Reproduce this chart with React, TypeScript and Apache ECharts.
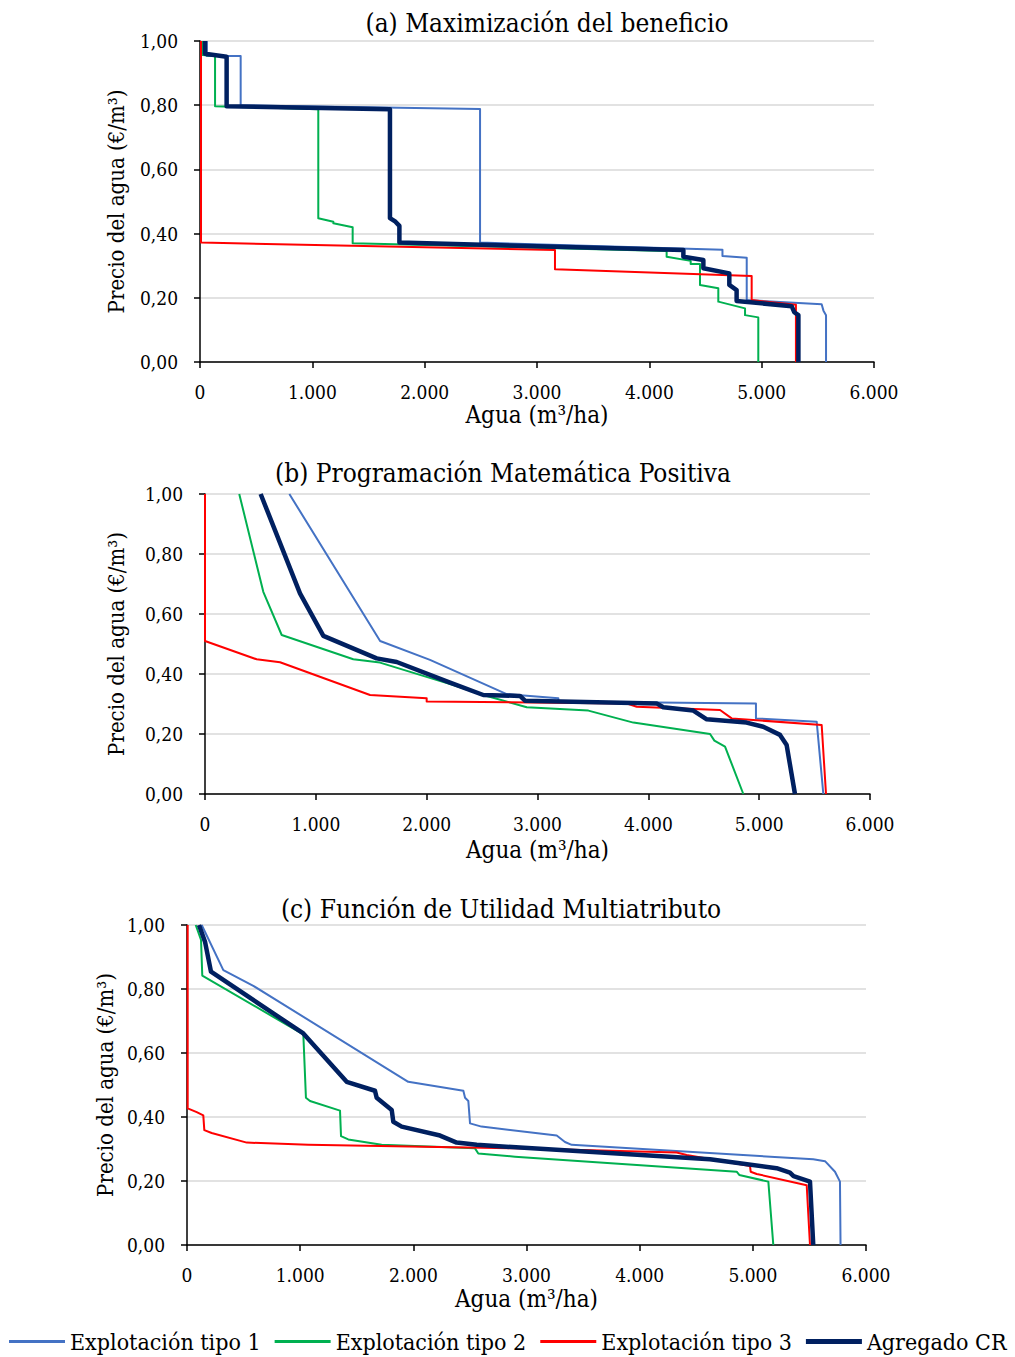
import React, { useEffect, useRef } from "react";
import * as echarts from "echarts";

const seriesNames = ["Explotación tipo 1", "Explotación tipo 2", "Explotación tipo 3", "Agregado CR"];
const seriesColors = ["#4472C4", "#00B050", "#FF0000", "#002060"];
const seriesWidths = [2, 2, 2, 4.5];

const panelTitles = [
  "(a) Maximización del beneficio",
  "(b) Programación Matemática Positiva",
  "(c) Función de Utilidad Multiatributo",
];
const xAxisName = "Agua (m³/ha)";
const yAxisName = "Precio del agua (€/m³)";

// (a) Maximización del beneficio  [agua m3/ha, precio €/m3]
const aTipo1 = [[60, 1.0], [60, 0.953], [362, 0.953], [362, 0.8], [2493, 0.788], [2493, 0.372], [4651, 0.35], [4651, 0.33], [4867, 0.325], [4867, 0.193], [5534, 0.18], [5550, 0.16], [5573, 0.146], [5573, 0]];
const aTipo2 = [[24, 1.0], [24, 0.956], [134, 0.953], [134, 0.797], [1053, 0.787], [1053, 0.448], [1187, 0.437], [1187, 0.432], [1359, 0.42], [1359, 0.37], [4154, 0.346], [4154, 0.328], [4368, 0.315], [4368, 0.305], [4451, 0.305], [4451, 0.24], [4614, 0.23], [4614, 0.188], [4852, 0.167], [4852, 0.146], [4970, 0.139], [4970, 0]];
const aTipo3 = [[9, 1.0], [9, 0.372], [3160, 0.349], [3160, 0.289], [4911, 0.268], [4911, 0.193], [5305, 0.178], [5305, 0]];
const aAgregado = [[45, 1.0], [45, 0.96], [237, 0.951], [237, 0.797], [1691, 0.787], [1691, 0.448], [1740, 0.437], [1775, 0.424], [1775, 0.372], [4303, 0.349], [4303, 0.328], [4481, 0.318], [4481, 0.292], [4712, 0.276], [4712, 0.24], [4777, 0.224], [4777, 0.19], [5267, 0.174], [5290, 0.155], [5327, 0.146], [5327, 0]];

// (b) Programación Matemática Positiva
const bTipo1 = [[761, 1.0], [1580, 0.51], [2030, 0.447], [2722, 0.333], [3188, 0.319], [3188, 0.308], [4971, 0.302], [4971, 0.252], [5519, 0.241], [5579, 0]];
const bTipo2 = [[309, 1.0], [526, 0.674], [692, 0.53], [1338, 0.449], [1579, 0.438], [2241, 0.363], [2511, 0.33], [2903, 0.289], [3459, 0.278], [3865, 0.238], [4557, 0.2], [4596, 0.178], [4692, 0.158], [4857, 0]];
const bTipo3 = [[0, 1.0], [0, 0.51], [466, 0.449], [677, 0.439], [1489, 0.33], [2000, 0.319], [2000, 0.308], [3800, 0.302], [3895, 0.291], [4647, 0.28], [4752, 0.252], [5564, 0.23], [5603, 0]];
const bAgregado = [[502, 1.0], [857, 0.669], [1068, 0.527], [1549, 0.452], [1730, 0.44], [2211, 0.371], [2511, 0.33], [2842, 0.327], [2887, 0.311], [4075, 0.302], [4135, 0.289], [4406, 0.278], [4527, 0.249], [4886, 0.238], [5037, 0.224], [5188, 0.197], [5248, 0.163], [5323, 0]];

// (c) Función de Utilidad Multiatributo
const cTipo1 = [[130, 1.0], [321, 0.859], [586, 0.81], [1955, 0.51], [2442, 0.482], [2457, 0.46], [2486, 0.45], [2501, 0.38], [2602, 0.37], [3267, 0.342], [3340, 0.322], [3399, 0.313], [5534, 0.268], [5638, 0.262], [5726, 0.229], [5770, 0.198], [5775, 0]];
const cTipo2 = [[77, 1.0], [124, 0.953], [135, 0.842], [1028, 0.658], [1051, 0.46], [1087, 0.45], [1352, 0.42], [1361, 0.34], [1425, 0.33], [1720, 0.313], [2545, 0.302], [2574, 0.286], [2898, 0.276], [4857, 0.229], [4880, 0.219], [5137, 0.198], [5181, 0]];
const cTipo3 = [[6, 1.0], [6, 0.427], [86, 0.415], [144, 0.405], [153, 0.359], [218, 0.35], [528, 0.32], [1072, 0.313], [2898, 0.302], [4327, 0.289], [4415, 0.281], [4975, 0.247], [4981, 0.229], [5034, 0.222], [5476, 0.187], [5505, 0]];
const cAgregado = [[106, 1.0], [159, 0.948], [212, 0.854], [1028, 0.661], [1411, 0.51], [1661, 0.482], [1676, 0.46], [1809, 0.422], [1823, 0.385], [1897, 0.37], [2236, 0.342], [2383, 0.32], [2560, 0.313], [4621, 0.268], [5210, 0.24], [5328, 0.226], [5360, 0.215], [5505, 0.198], [5534, 0]];

const panelData = [
  [aTipo1, aTipo2, aTipo3, aAgregado],
  [bTipo1, bTipo2, bTipo3, bAgregado],
  [cTipo1, cTipo2, cTipo3, cAgregado],
];

const FONT = "'DejaVu Serif Condensed', 'Liberation Serif', serif";

const grids = [
  { left: 200, width: 674, top: 41, height: 321 },
  { left: 205, width: 665, top: 494, height: 300 },
  { left: 187, width: 679, top: 925, height: 320 },
];
const titlePos = [
  { cx: 542, top: 5 },
  { cx: 498, top: 455 },
  { cx: 496, top: 891 },
];
const yNameGap = [73, 78, 59];
const xNameGap = [41, 44, 42];

// legend line icons (thin and thick), framed to the full icon box so they keep their size
const thinIcon = "path://M0,0h0.01v0.01h-0.01z M0,5.5h56v3h-56z M55.99,13.99h0.01v0.01h-0.01z";
const thickIcon = "path://M0,0h0.01v0.01h-0.01z M0,4.5h56v5h-56z M55.99,13.99h0.01v0.01h-0.01z";

const fmtX = (v: number) => (v === 0 ? "0" : Math.round(v / 1000) + "." + String(Math.round(v % 1000)).padStart(3, "0"));
const fmtY = (v: number) => v.toFixed(2).replace(".", ",");

export default function App() {
  const ref = useRef<HTMLDivElement>(null);
  useEffect(() => {
    if (!ref.current) return;
    const chart = echarts.init(ref.current, undefined, { renderer: "svg" });
    const xAxes: any[] = [];
    const yAxes: any[] = [];
    const series: any[] = [];
    const titles: any[] = [];
    grids.forEach((g, p) => {
      xAxes.push({
        type: "value",
        gridIndex: p,
        min: 0,
        max: 6000,
        interval: 1000,
        name: xAxisName,
        nameLocation: "middle",
        nameGap: xNameGap[p],
        nameTextStyle: { fontFamily: FONT, fontSize: 24, color: "#000" },
        axisLine: { show: true, onZero: false, lineStyle: { color: "#000", width: 1.5 } },
        axisTick: { show: true, length: 6, lineStyle: { color: "#000", width: 1.5 } },
        axisLabel: { formatter: fmtX, fontFamily: FONT, fontSize: 19, color: "#000", margin: 20 },
        splitLine: { show: false },
      });
      yAxes.push({
        type: "value",
        gridIndex: p,
        min: 0,
        max: 1,
        interval: 0.2,
        name: yAxisName,
        nameLocation: "middle",
        nameGap: yNameGap[p],
        nameRotate: 90,
        nameTextStyle: { fontFamily: FONT, fontSize: 22, color: "#000" },
        axisLine: { show: true, onZero: false, lineStyle: { color: "#000", width: 1.5 } },
        axisTick: { show: true, length: 6, lineStyle: { color: "#000", width: 1.5 } },
        axisLabel: { formatter: fmtY, fontFamily: FONT, fontSize: 19, color: "#000", margin: 22 },
        splitLine: { show: true, lineStyle: { color: "#D9D9D9", width: 1.5 } },
      });
      titles.push({
        text: panelTitles[p],
        left: titlePos[p].cx,
        top: titlePos[p].top,
        textAlign: "center",
        textStyle: { fontFamily: FONT, fontSize: 26, fontWeight: "normal", color: "#000" },
      });
      panelData[p].forEach((d, i) => {
        series.push({
          type: "line",
          name: seriesNames[i],
          xAxisIndex: p,
          yAxisIndex: p,
          data: d,
          symbol: "none",
          showSymbol: false,
          z: 2 + i,
          lineStyle: { color: seriesColors[i], width: seriesWidths[i], join: "round" },
          itemStyle: { color: seriesColors[i] },
        });
      });
    });
    chart.setOption({
      animation: false,
      backgroundColor: "#fff",
      title: titles,
      grid: grids,
      xAxis: xAxes,
      yAxis: yAxes,
      legend: {
        data: seriesNames.map((n, i) => ({
          name: n,
          icon: i === 3 ? thickIcon : thinIcon,
          itemStyle: { color: seriesColors[i], borderWidth: 0 },
        })),
        padding: 0,
        left: 9,
        top: 1330,
        itemWidth: 56,
        itemHeight: 14,
        itemGap: 14,
        textStyle: { fontFamily: FONT, fontSize: 23, color: "#000" },
      },
      series,
    });
    return () => chart.dispose();
  }, []);
  return <div ref={ref} style={{ position: "fixed", left: 0, top: 0, width: 1015, height: 1357 }} />;
}
